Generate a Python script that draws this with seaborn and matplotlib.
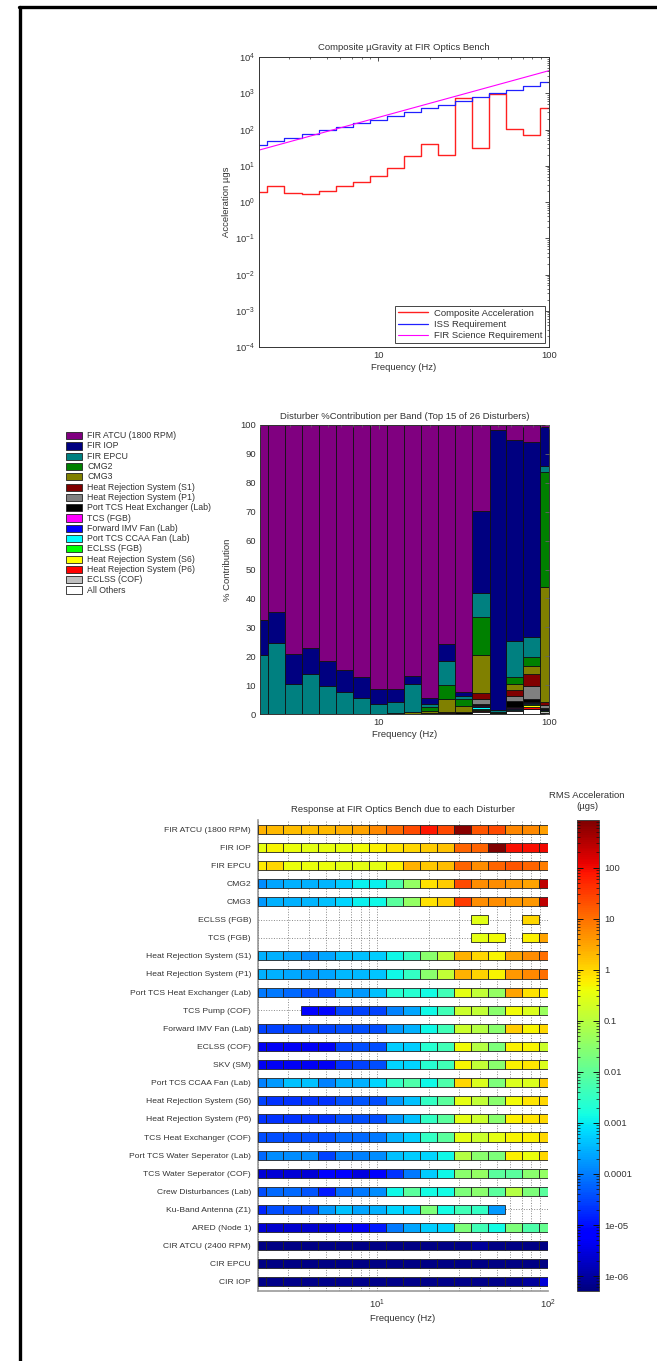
import numpy as np
import pandas as pd
import matplotlib
matplotlib.use('Agg')
import matplotlib.pyplot as plt
import seaborn as sns
from matplotlib.colors import LogNorm
from matplotlib.patches import Rectangle
from matplotlib.lines import Line2D
from matplotlib.cm import ScalarMappable
from matplotlib.ticker import LogLocator, FixedLocator, FixedFormatter, NullFormatter

# ---------------- data ----------------
band_centers = [2, 2.5, 3.15, 4, 5, 6.3, 8, 10, 12.5, 16, 20, 25, 31.5, 40, 50, 63, 80, 100]
band_edges = [2, 2.24, 2.82, 3.55, 4.47, 5.62, 7.08, 8.91, 11.2, 14.1, 17.8, 22.4,
              28.2, 35.5, 44.7, 56.2, 70.8, 89.1, 100]

# top chart (µg RMS per 1/3 octave band)
composite = [1.9, 2.7, 1.8, 1.7, 2.0, 2.7, 3.5, 5.3, 8.5, 18, 40, 20, 750, 30, 945, 104, 72, 380]
iss_req = [38, 47, 60, 77, 98, 120, 148, 188, 240, 300, 385, 480, 630, 780, 1000, 1240, 1560, 2000]
fir_req_freq = [2, 100]
fir_req = [27, 4200]

# middle chart: % contribution per band (legend order, top of stack first)
contrib_names = ['FIR ATCU (1800 RPM)', 'FIR IOP', 'FIR EPCU', 'CMG2', 'CMG3',
                 'Heat Rejection System (S1)', 'Heat Rejection System (P1)',
                 'Port TCS Heat Exchanger (Lab)', 'TCS (FGB)', 'Forward IMV Fan (Lab)',
                 'Port TCS CCAA Fan (Lab)', 'ECLSS (FGB)', 'Heat Rejection System (S6)',
                 'Heat Rejection System (P6)', 'ECLSS (COF)', 'All Others']
contrib_colors = ['#800080', '#000080', '#008080', '#008000', '#808000', '#800000',
                  '#808080', '#000000', '#FF00FF', '#0000FF', '#00FFFF', '#00FF00',
                  '#FFFF00', '#FF0000', '#C0C0C0', '#FFFFFF']
pct_fir_atcu = [67.5, 64.8, 79.1, 77.3, 81.8, 84.8, 87.3, 91.2, 91.2, 87.0, 94.6, 75.9, 92.5, 29.6, 1.8, 5.2, 6.0, 0.8]
pct_fir_iop = [12.0, 10.6, 10.4, 9.0, 8.4, 7.7, 7.05, 5.2, 4.5, 2.7, 2.1, 5.7, 1.2, 28.5, 96.8, 69.5, 67.2, 13.4]
pct_fir_epcu = [20.5, 24.6, 10.5, 13.7, 9.8, 7.5, 5.65, 3.6, 3.9, 9.6, 0.9, 8.4, 1.0, 8.5, 0.7, 12.6, 7.2, 1.9]
pct_cmg2 = [0, 0, 0, 0, 0, 0, 0, 0, 0, 0, 1.2, 4.9, 2.4, 13.0, 0.3, 2.3, 2.9, 39.8]
pct_cmg3 = [0, 0, 0, 0, 0, 0, 0, 0, 0, 0.7, 1.0, 4.4, 2.3, 13.0, 0.4, 2.2, 2.7, 40.1]
pct_hrs_s1 = [0, 0, 0, 0, 0, 0, 0, 0, 0, 0, 0.2, 0.4, 0, 2.2, 0, 2.0, 4.2, 1.0]
pct_hrs_p1 = [0, 0, 0, 0, 0, 0, 0, 0, 0, 0, 0, 0.3, 0, 1.8, 0, 1.7, 4.5, 0.8]
pct_tcs_hx = [0, 0, 0, 0, 0, 0, 0, 0, 0.4, 0, 0, 0, 0.6, 0.3, 0, 2.2, 1.1, 0.3]
pct_tcs_fgb = [0, 0, 0, 0, 0, 0, 0, 0, 0, 0, 0, 0, 0, 0.5, 0, 0.1, 0.2, 0.3]
pct_imv_fan = [0, 0, 0, 0, 0, 0, 0, 0, 0, 0, 0, 0, 0, 0.3, 0, 0.6, 0.2, 0.2]
pct_ccaa_fan = [0, 0, 0, 0, 0, 0, 0, 0, 0, 0, 0, 0, 0, 0.5, 0, 0.1, 0.2, 0.1]
pct_eclss_fgb = [0, 0, 0, 0, 0, 0, 0, 0, 0, 0, 0, 0, 0, 0.3, 0, 0, 0.6, 0.1]
pct_hrs_s6 = [0, 0, 0, 0, 0, 0, 0, 0, 0, 0, 0, 0, 0, 0.2, 0, 0.1, 0.6, 0.1]
pct_hrs_p6 = [0, 0, 0, 0, 0, 0, 0, 0, 0, 0, 0, 0, 0, 0.2, 0, 0.1, 0.5, 0.2]
pct_eclss_cof = [0, 0, 0, 0, 0, 0, 0, 0, 0, 0, 0, 0, 0, 0.3, 0, 0.1, 0.3, 0.4]
pct_all_others = [0, 0, 0, 0, 0, 0, 0, 0, 0, 0, 0, 0, 0, 0.8, 0, 1.2, 1.6, 0.5]
contrib_values = [pct_fir_atcu, pct_fir_iop, pct_fir_epcu, pct_cmg2, pct_cmg3, pct_hrs_s1,
                  pct_hrs_p1, pct_tcs_hx, pct_tcs_fgb, pct_imv_fan, pct_ccaa_fan,
                  pct_eclss_fgb, pct_hrs_s6, pct_hrs_p6, pct_eclss_cof, pct_all_others]

# bottom chart: RMS acceleration per disturber per band, log10(µg); nan = no data
disturbers = ['FIR ATCU (1800 RPM)', 'FIR IOP', 'FIR EPCU', 'CMG2', 'CMG3', 'ECLSS (FGB)',
              'TCS (FGB)', 'Heat Rejection System (S1)', 'Heat Rejection System (P1)',
              'Port TCS Heat Exchanger (Lab)', 'TCS Pump (COF)', 'Forward IMV Fan (Lab)',
              'ECLSS (COF)', 'SKV (SM)', 'Port TCS CCAA Fan (Lab)',
              'Heat Rejection System (S6)', 'Heat Rejection System (P6)',
              'TCS Heat Exchanger (COF)', 'Port TCS Water Seperator (Lab)',
              'TCS Water Seperator (COF)', 'Crew Disturbances (Lab)',
              'Ku-Band Antenna (Z1)', 'ARED (Node 1)', 'CIR ATCU (2400 RPM)', 'CIR EPCU', 'CIR IOP']
nan = float('nan')
rms_log10 = [
    [0.35, 0.3, 0.25, 0.25, 0.3, 0.4, 0.5, 0.75, 1.05, 1.36, 1.86, 1.4, 2.85, 1.25, 1.36, 0.8, 0.75, 0.55],
    [-0.48, -0.3, -0.45, -0.5, -0.48, -0.48, -0.35, -0.25, -0.1, 0.0, 0.11, 0.2, 1.11, 1.11, 2.9, 1.95, 1.95, 2.0],
    [-0.2, 0.0, -0.45, -0.45, -0.45, -0.5, -0.5, -0.5, -0.25, 0.35, 0.15, 0.25, 1.11, 0.7, 1.11, 1.25, 1.11, 0.86],
    [-3.85, -3.65, -3.55, -3.55, -3.5, -3.3, -2.95, -2.95, -2.2, -1.4, -0.1, 0.11, 1.36, 0.7, 0.7, 0.6, 0.5, 2.4],
    [-3.75, -3.55, -3.55, -3.5, -3.4, -3.2, -2.95, -2.9, -2.05, -1.4, -0.1, 0.11, 1.5, 0.7, 0.7, 0.6, 0.6, 2.4],
    [nan, nan, nan, nan, nan, nan, nan, nan, nan, nan, nan, nan, nan, -0.55, nan, nan, 0.0, nan],
    [nan, nan, nan, nan, nan, nan, nan, nan, nan, nan, nan, nan, nan, -0.5, -0.35, nan, -0.25, 0.5],
    [-3.55, -3.55, -3.65, -3.85, -3.65, -3.4, -3.4, -3.3, -2.9, -2.5, -1.5, -0.92, 0.35, 0.0, -0.3, 0.5, 0.7, 1.0],
    [-3.55, -3.55, -3.6, -3.75, -3.65, -3.45, -3.45, -3.35, -2.9, -2.5, -1.5, -0.92, 0.35, 0.05, -0.3, 0.6, 0.75, 1.0],
    [-4.05, -4.05, -4.2, -4.45, -4.45, -3.65, -3.75, -3.4, -2.65, -2.65, -2.85, -2.35, -0.5, -0.9, -1.4, 0.5, -0.1, -0.25],
    [nan, nan, nan, -5.2, -5.1, -4.55, -4.55, -4.55, -3.95, -3.65, -2.9, -2.35, -0.8, -0.9, -1.5, -0.35, -0.6, -1.35],
    [-4.55, -4.55, -4.55, -4.55, -4.55, -4.45, -4.45, -4.45, -3.75, -3.55, -2.9, -2.35, -0.8, -1.05, -1.5, 0.11, -0.3, 0.0],
    [-5.35, -5.35, -5.35, -5.35, -5.35, -4.55, -4.45, -4.45, -3.3, -3.3, -2.65, -2.35, -0.35, -1.05, -1.65, -0.25, -0.3, -0.8],
    [-5.35, -5.35, -5.35, -5.35, -5.35, -4.7, -4.55, -4.45, -3.2, -3.2, -2.65, -2.35, -0.3, -0.9, -1.5, -0.25, -0.15, -0.6],
    [-3.95, -3.75, -3.4, -3.4, -3.95, -3.55, -3.55, -3.2, -2.5, -2.2, -2.9, -2.2, 0.0, -0.6, -1.65, -0.6, -0.6, 0.1],
    [-4.55, -4.7, -4.7, -4.7, -4.7, -4.45, -4.35, -4.45, -3.75, -3.4, -2.5, -2.05, -0.5, -0.9, -1.5, -0.35, -0.15, 0.0],
    [-4.7, -4.7, -4.7, -4.7, -4.7, -4.45, -4.45, -4.45, -3.75, -3.4, -2.5, -2.05, -0.5, -0.8, -1.5, -0.25, -0.15, 0.0],
    [-4.45, -4.45, -4.45, -4.45, -4.45, -4.2, -4.2, -4.05, -3.55, -3.3, -2.5, -2.05, -0.5, -0.8, -0.5, -0.3, -0.25, 0.0],
    [-4.2, -3.85, -3.85, -3.85, -4.55, -3.95, -3.95, -3.85, -3.4, -3.3, -3.2, -2.9, -1.05, -1.5, -1.65, -0.25, -0.45, 0.0],
    [-5.6, -5.6, -5.6, -5.6, -5.2, -5.2, -5.5, -5.2, -4.7, -4.05, -3.3, -2.9, -1.5, -1.4, -2.05, -2.05, -1.5, -1.4],
    [-4.45, -4.2, -4.2, -4.35, -4.9, -4.2, -4.05, -3.85, -2.9, -2.05, -2.85, -2.85, -1.65, -1.5, -2.05, -1.05, -1.65, -2.05],
    [-4.8, -4.45, -4.45, -4.45, -3.75, -3.4, -3.65, -3.55, -3.2, -3.2, -1.65, -2.85, -2.35, -2.5, -3.75, nan, nan, nan],
    [-5.6, -5.65, -5.65, -5.65, -5.6, -5.35, -5.35, -4.9, -4.05, -3.65, -3.3, -3.2, -1.65, -2.35, -2.85, -1.65, -2.2, -1.9],
    [-6.25, -6.25, -6.25, -6.25, -6.25, -6.25, -6.25, -6.25, -6.25, -6.25, -6.25, -6.25, -6.25, -6.05, -6.25, -6.25, -6.25, -6.25],
    [-6.25, -6.25, -6.25, -6.25, -6.25, -6.25, -6.25, -6.25, -6.25, -6.25, -6.25, -6.25, -6.25, -6.25, -6.25, -6.25, -6.25, -6.25],
    [-6.2, -6.2, -6.2, -6.2, -6.2, -6.2, -6.2, -6.2, -6.2, -6.2, -6.2, -6.2, -6.2, -6.2, -6.2, -6.2, -6.05, -5.6],
]
cbar_ticks = [1e-6, 1e-5, 1e-4, 1e-3, 1e-2, 1e-1, 1, 10, 100]
cbar_ticklabels = ['1e-06', '1e-05', '0.0001', '0.001', '0.01', '0.1', '1', '10', '100']

# ---------------- style ----------------
sns.set_style('white')
plt.rcParams['font.family'] = ['Liberation Sans', 'DejaVu Sans']
plt.rcParams['text.color'] = '#333333'
plt.rcParams['axes.labelcolor'] = '#333333'
plt.rcParams['xtick.color'] = '#333333'
plt.rcParams['ytick.color'] = '#333333'
plt.rcParams['axes.edgecolor'] = '#333333'
plt.rcParams['mathtext.default'] = 'regular'

W, H = 657, 1361
fig = plt.figure(figsize=(W / 100, H / 100), dpi=100)

def fx(px):
    return px / W

def fy(py):
    return 1 - py / H

FS = 6.8
TFS = 6.8

# frame lines (left and top)
fig.add_artist(Line2D([fx(20), fx(20)], [0, fy(7)], color='black', lw=2.4, transform=fig.transFigure))
fig.add_artist(Line2D([fx(19), 1], [fy(7), fy(7)], color='black', lw=2.4, transform=fig.transFigure))

edges = np.array(band_edges)
lefts = edges[:-1]
widths = np.diff(edges)
minor_freqs = [2, 3, 4, 5, 6, 7, 8, 9, 20, 30, 40, 50, 60, 70, 80, 90]

# ---------------- top chart ----------------
ax1 = fig.add_axes([fx(259), fy(347), fx(549) - fx(259), fy(57) - fy(347)])
step_x = band_edges
df_comp = pd.DataFrame({'f': step_x, 'a': composite + [composite[-1]]})
df_iss = pd.DataFrame({'f': step_x, 'a': iss_req + [iss_req[-1]]})
df_fir = pd.DataFrame({'f': fir_req_freq, 'a': fir_req})
sns.lineplot(data=df_comp, x='f', y='a', ax=ax1, color='#FF2020', lw=1.0,
             drawstyle='steps-post', label='Composite Acceleration', estimator=None, sort=False)
sns.lineplot(data=df_iss, x='f', y='a', ax=ax1, color='#2020FF', lw=0.9,
             drawstyle='steps-post', label='ISS Requirement', estimator=None, sort=False)
sns.lineplot(data=df_fir, x='f', y='a', ax=ax1, color='#FF00FF', lw=0.8,
             label='FIR Science Requirement', estimator=None, sort=False)
ax1.set_xscale('log')
ax1.set_yscale('log')
ax1.set_xlim(2, 100)
ax1.set_ylim(1e-4, 1e4)
ax1.set_axisbelow(False)
ax1.xaxis.set_major_locator(FixedLocator([10, 100]))
ax1.xaxis.set_major_formatter(FixedFormatter(['10', '100']))
ax1.xaxis.set_minor_locator(FixedLocator(minor_freqs))
ax1.xaxis.set_minor_formatter(NullFormatter())
ax1.yaxis.set_major_locator(LogLocator(base=10, numticks=20))
ax1.yaxis.set_minor_locator(LogLocator(base=10, subs=range(2, 10), numticks=100))
ax1.yaxis.set_minor_formatter(NullFormatter())
ax1.tick_params(which='both', direction='in', top=True, right=True, labelsize=FS, pad=3)
ax1.tick_params(which='major', length=3, width=0.6)
ax1.tick_params(which='minor', length=1.6, width=0.5)
ax1.set_title('Composite µGravity at FIR Optics Bench', fontsize=TFS, pad=5)
ax1.set_xlabel('Frequency (Hz)', fontsize=FS, labelpad=2)
ax1.set_ylabel('Acceleration µgs', fontsize=FS, labelpad=3)
for s in ax1.spines.values():
    s.set_linewidth(0.7)
leg = ax1.legend(loc='lower right', fontsize=FS, frameon=True, fancybox=False,
                 edgecolor='#444444', framealpha=1, borderaxespad=0.4, handlelength=3.2,
                 borderpad=0.3, labelspacing=0.25, handletextpad=0.6)
leg.get_frame().set_linewidth(0.7)

# ---------------- middle chart ----------------
ax2 = fig.add_axes([fx(260), fy(714), fx(549) - fx(260), fy(425) - fy(714)])
bottom = np.zeros(len(band_centers))
for name, col, vals in reversed(list(zip(contrib_names, contrib_colors, contrib_values))):
    v = np.array(vals, dtype=float)
    m = v > 0
    ax2.bar(lefts[m], v[m], width=widths[m], bottom=bottom[m], align='edge',
            color=col, edgecolor='#111111', linewidth=0.6)
    bottom = bottom + v
ax2.set_xscale('log')
ax2.set_xlim(2, 100)
ax2.set_ylim(0, 100)
ax2.set_axisbelow(False)
ax2.xaxis.set_major_locator(FixedLocator([10, 100]))
ax2.xaxis.set_major_formatter(FixedFormatter(['10', '100']))
ax2.xaxis.set_minor_locator(FixedLocator(minor_freqs))
ax2.xaxis.set_minor_formatter(NullFormatter())
ax2.set_yticks(range(0, 101, 10))
ax2.tick_params(which='both', direction='in', top=True, right=True, labelsize=FS, pad=3,
                color='#666666')
ax2.tick_params(which='major', length=3, width=0.6)
ax2.tick_params(which='minor', length=1.6, width=0.5)
ax2.set_title('Disturber %Contribution per Band (Top 15 of 26 Disturbers)', fontsize=TFS, pad=4)
ax2.set_xlabel('Frequency (Hz)', fontsize=FS, labelpad=2)
ax2.set_ylabel('% Contribution', fontsize=FS, labelpad=6)
for s in ax2.spines.values():
    s.set_linewidth(0.7)

# manual legend at left
for k, (name, col) in enumerate(zip(contrib_names, contrib_colors)):
    yc = 435.7 + k * 10.29
    fig.add_artist(Rectangle((fx(66), fy(yc + 3.6)), fx(82) - fx(66), (7.2 / H),
                             facecolor=col, edgecolor='#222222', lw=0.6,
                             transform=fig.transFigure))
    fig.text(fx(87), fy(yc), name, fontsize=6.3, va='center', ha='left', color='#333333')

# ---------------- bottom chart ----------------
ax3 = fig.add_axes([fx(258), fy(1291), fx(548) - fx(258), fy(820) - fy(1291)])
norm = LogNorm(vmin=5.1e-7, vmax=860)
cmap = plt.get_cmap('jet')
for i, row in enumerate(rms_log10):
    v = np.array(row, dtype=float)
    m = ~np.isnan(v)
    ax3.barh(np.full(m.sum(), i + 1), widths[m], left=lefts[m], height=0.5,
             color=cmap(norm(10 ** v[m])), edgecolor='#222222', linewidth=0.6, zorder=3)
ax3.set_xscale('log')
ax3.set_xlim(2, 100)
ax3.set_ylim(26.5, 0.5)
ax3.set_yticks(range(1, len(disturbers) + 1))
ax3.set_yticklabels(disturbers)
ax3.xaxis.set_major_locator(FixedLocator([10, 100]))
ax3.xaxis.set_major_formatter(FixedFormatter(['$10^{1}$', '$10^{2}$']))
ax3.xaxis.set_minor_locator(FixedLocator(minor_freqs))
ax3.xaxis.set_minor_formatter(NullFormatter())
ax3.set_axisbelow(False)
ax3.grid(True, which='both', axis='x', ls=':', color='#888888', lw=0.7)
ax3.grid(True, which='major', axis='y', ls=':', color='#888888', lw=0.7)
ax3.spines['top'].set_visible(False)
ax3.spines['right'].set_visible(False)
ax3.spines['left'].set_color('#999999')
ax3.spines['bottom'].set_color('#999999')
ax3.spines['left'].set_linewidth(1.2)
ax3.spines['bottom'].set_linewidth(1.2)
ax3.tick_params(axis='y', direction='out', length=3, width=0.7, labelsize=6.1, pad=2)
ax3.tick_params(axis='x', which='both', direction='in', labelsize=FS, pad=5)
ax3.tick_params(axis='x', which='major', length=4, width=0.6)
ax3.tick_params(axis='x', which='minor', length=2, width=0.5)
ax3.set_title('Response at FIR Optics Bench due to each Disturber', fontsize=TFS, pad=6)
ax3.set_xlabel('Frequency (Hz)', fontsize=FS, labelpad=2)

# colorbar
cax = fig.add_axes([fx(577), fy(1291), fx(599) - fx(577), fy(820) - fy(1291)])
sm = ScalarMappable(norm=norm, cmap=cmap)
cb = fig.colorbar(sm, cax=cax)
cb.set_ticks(cbar_ticks)
cb.set_ticklabels(cbar_ticklabels)
cax.yaxis.set_minor_locator(LogLocator(base=10, subs=range(2, 10), numticks=100))
cax.yaxis.set_minor_formatter(NullFormatter())
cax.set_axisbelow(False)
cb.outline.set_linewidth(0.7)
cb.outline.set_edgecolor('#444444')
cax.tick_params(which='both', direction='in', left=True, right=True, color='#111111', labelsize=FS)
cax.tick_params(which='major', length=4, width=0.7)
cax.tick_params(which='minor', length=2.5, width=0.5)
fig.text(fx(587), fy(801), 'RMS Acceleration\n(µgs)', fontsize=FS, ha='center', va='center',
         linespacing=1.3, color='#333333')

fig.savefig('out.png', dpi=100)
